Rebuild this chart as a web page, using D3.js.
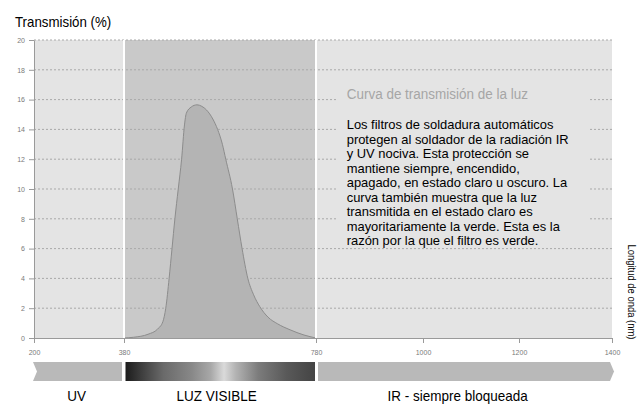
<!DOCTYPE html>
<html>
<head>
<meta charset="utf-8">
<script src="https://cdn.jsdelivr.net/npm/d3@7/dist/d3.min.js"></script>
<style>
  body { margin: 0; background: #fff; }
  text { font-family: "Liberation Sans", Arial, Helvetica, sans-serif; }
</style>
</head>
<body>
<div id="my_dataviz"></div>
<script>
// data
const yTicks = [0, 2, 4, 6, 8, 10, 12, 14, 16, 18, 20];
const xTicks = [200, 380, 780, 1000, 1200, 1400];

const wavelength = [380, 400, 430, 450, 461, 467, 474, 480, 486, 493, 500, 506, 510, 520, 532, 542, 552, 565, 575, 585, 592, 606, 616, 626, 638, 650, 663, 680, 700, 726, 755, 780];
const transmission = [0, 0.05, 0.25, 0.6, 1.1, 2, 4, 6, 8, 10, 12, 14.3, 15.1, 15.5, 15.65, 15.55, 15.3, 14.7, 14.0, 13.0, 12, 10, 8, 6, 4, 2.9, 2.1, 1.4, 0.95, 0.55, 0.2, 0];

const bandNames = ["UV", "LUZ VISIBLE", "IR - siempre bloqueada"];
const bandFrom = [200, 380, 780];
const bandTo = [380, 780, 1400];
const bandLabelAt = [285, 573, 1072];

const yTitle = "Transmisión (%)";
const xTitle = "Longitud de onda (nm)";
const noteTitle = "Curva de transmisión de la luz";
const noteLines = [
    "Los filtros de soldadura automáticos",
    "protegen al soldador de la radiación IR",
    "y UV nociva. Esta protección se",
    "mantiene siempre, encendido,",
    "apagado, en estado claro u oscuro. La",
    "curva también muestra que la luz",
    "transmitida en el estado claro es",
    "mayoritariamente la verde. Esta es la",
    "razón por la que el filtro es verde."
];

let margin = {top: 40, right: 25, bottom: 67, left: 34},
    width = 637 - margin.left - margin.right,
    height = 405 - margin.top - margin.bottom;

let root = d3.select("#my_dataviz")
    .append("svg")
    .attr("width", 637)
    .attr("height", 405);

let svg = root.append("g")
    .attr("transform", "translate(" + margin.left + "," + margin.top + ")");

// the wavelength axis is not quite linear in the original, so piecewise
let x = d3.scaleLinear()
    .domain(xTicks)
    .range([0, 90, 282, 389, 485, width]);

let y = d3.scaleLinear()
    .domain([0, 20])
    .range([height, 0]);

// squeezed text, like the condensed face of the original
function label(parent, tx, ty, str, size, sx, opts) {
    opts = opts || {};
    return parent.append("text")
        .attr("transform", "translate(" + tx + "," + ty + ")" + (opts.rotate ? " rotate(" + opts.rotate + ")" : "") + " scale(" + sx + ",1)")
        .attr("text-anchor", opts.anchor || "start")
        .style("font-size", size + "px")
        .style("fill", opts.fill || "#000")
        .text(str);
}

// backgrounds
svg.append("rect")
    .attr("x", x(200)).attr("y", 0)
    .attr("width", x(1400) - x(200)).attr("height", height)
    .attr("fill", "#e4e4e4");

svg.append("rect")
    .attr("x", x(380)).attr("y", 0)
    .attr("width", x(780) - x(380)).attr("height", height)
    .attr("fill", "#c9c9c9");

// grid
svg.selectAll(".grid")
    .data(yTicks.filter(d => d > 0))
    .enter()
    .append("line")
    .attr("class", "grid")
    .attr("x1", 0).attr("x2", width)
    .attr("y1", d => y(d)).attr("y2", d => y(d))
    .attr("stroke", "#a9a9a9")
    .attr("stroke-width", 1)
    .attr("stroke-dasharray", "2,2");

// box behind the note hides the grid
svg.append("rect")
    .attr("x", 304).attr("y", 40)
    .attr("width", 250).attr("height", 167)
    .attr("fill", "#e4e4e4");

// transmission curve
let pts = wavelength.map((w, i) => ({w: w, t: transmission[i]}));
let area = d3.area()
    .x(d => x(d.w))
    .y0(y(0))
    .y1(d => y(d.t))
    .curve(d3.curveMonotoneX);
let line = d3.line()
    .x(d => x(d.w))
    .y(d => y(d.t))
    .curve(d3.curveMonotoneX);

svg.append("path")
    .datum(pts)
    .attr("d", area)
    .attr("fill", "#b4b4b4");
svg.append("path")
    .datum(pts)
    .attr("d", line)
    .attr("fill", "none")
    .attr("stroke", "#8c8c8c")
    .attr("stroke-width", 1);

// white separators at the visible range
svg.selectAll(".sep")
    .data([380, 780])
    .enter()
    .append("line")
    .attr("x1", d => x(d)).attr("x2", d => x(d))
    .attr("y1", 0).attr("y2", height)
    .attr("stroke", "#fff")
    .attr("stroke-width", 2);

// axes
let yAxis = svg.append("g")
    .call(d3.axisLeft(y).tickValues(yTicks).tickSize(5).tickSizeOuter(0).tickPadding(4));
let xAxis = svg.append("g")
    .attr("transform", "translate(0," + height + ")")
    .call(d3.axisBottom(x).tickValues(xTicks).tickFormat(d3.format("d")).tickSize(5).tickSizeOuter(0).tickPadding(7));

[yAxis, xAxis].forEach(function (a) {
    a.select(".domain").attr("stroke", "#9a9a9a");
    a.selectAll(".tick line").attr("stroke", "#9a9a9a");
    a.selectAll(".tick text")
        .style("font-size", "7px")
        .style("fill", "#7a7a7a")
        .style("font-family", "'Liberation Sans', Arial, sans-serif");
});

// titles
label(root, 15, 26.5, yTitle, 14, 0.95);
label(root, 627.5, 292, xTitle, 10.5, 0.9, {rotate: 90, anchor: "middle"});

// note
label(svg, 346.7 - margin.left, 99.3 - margin.top, noteTitle, 15.5, 0.87, {fill: "#a6a6a6"});
noteLines.forEach(function (s, i) {
    label(svg, 346.7 - margin.left, 129 - margin.top + i * 14.5, s, 13.2, 0.98);
});

// spectrum bar
let defs = root.append("defs");
let grad = defs.append("linearGradient").attr("id", "visGrad");
[[0, "#1c1c1c"], [0.08, "#3c3c3c"], [0.2, "#6a6a6a"], [0.35, "#888"], [0.45, "#a8a8a8"],
 [0.52, "#dadada"], [0.58, "#b4b4b4"], [0.7, "#7c7c7c"], [0.85, "#595959"], [1, "#444"]]
    .forEach(s => grad.append("stop").attr("offset", s[0]).attr("stop-color", s[1]));

let barTop = height + 24, barBot = height + 43, barMid = (barTop + barBot) / 2;
let bar = svg.append("g");
bar.append("polygon")
    .attr("points", [[x(200) - 1, barTop], [x(380) - 2, barTop], [x(380) - 2, barBot], [x(200) - 1, barBot], [x(200) + 3, barMid]].join(" "))
    .attr("fill", "#b9b9b9");
bar.append("rect")
    .attr("x", x(380) + 1.5).attr("y", barTop)
    .attr("width", x(780) - x(380) - 2.5).attr("height", barBot - barTop)
    .attr("fill", "url(#visGrad)");
bar.append("polygon")
    .attr("points", [[x(780) + 2, barTop], [x(1400) - 2, barTop], [x(1400) + 2, barMid], [x(1400) - 2, barBot], [x(780) + 2, barBot]].join(" "))
    .attr("fill", "#b9b9b9");

bandNames.forEach(function (n, i) {
    label(svg, x(bandLabelAt[i]), 401 - margin.top, n, 15, 0.9, {anchor: "middle"});
});
</script>
</body>
</html>
